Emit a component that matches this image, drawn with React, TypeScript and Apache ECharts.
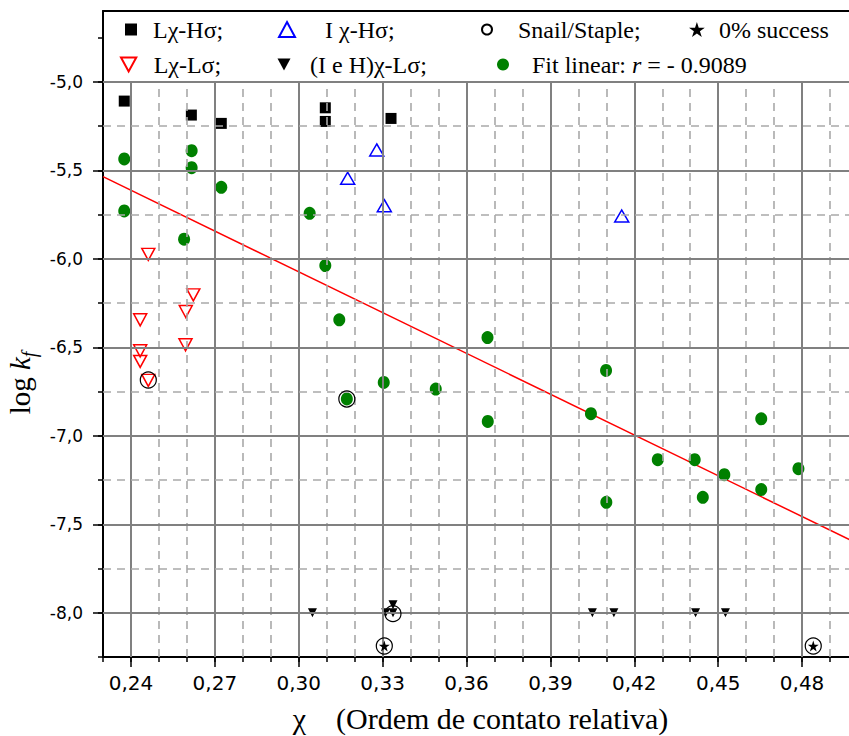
import React, { useEffect, useRef } from 'react';
import * as echarts from 'echarts';

// ---------- axis ranges & ticks ----------
const X_MIN = 0.23;
const X_MAX = 0.5;
const Y_MIN = -8.25;
const Y_MAX = -4.6;
const GRID_TOP_VALUE = -5.0;

const xMajorTicks = [0.24, 0.27, 0.3, 0.33, 0.36, 0.39, 0.42, 0.45, 0.48];
const xMinorTicks = [
  0.23, 0.24, 0.25, 0.26, 0.27, 0.28, 0.29, 0.3, 0.31, 0.32, 0.33, 0.34, 0.35, 0.36,
  0.37, 0.38, 0.39, 0.4, 0.41, 0.42, 0.43, 0.44, 0.45, 0.46, 0.47, 0.48, 0.49, 0.5,
];
const yMajorTicks = [-8.0, -7.5, -7.0, -6.5, -6.0, -5.5, -5.0];
const yMinorTicks = [
  -8.25, -8.0, -7.75, -7.5, -7.25, -7.0, -6.75, -6.5, -6.25, -6.0, -5.75, -5.5, -5.25, -5.0, -4.75,
];

// ---------- data ----------
// Lχ-Hσ (black squares)
const sqX = [0.2376, 0.2616, 0.2723, 0.3095, 0.3095, 0.333];
const sqY = [-5.109, -5.188, -5.235, -5.147, -5.224, -5.207];

// I χ-Hσ (blue open triangles)
const triUpX = [0.3279, 0.3175, 0.3306, 0.4155];
const triUpY = [-5.385, -5.545, -5.7, -5.758];

// Lχ-Lσ (red open down-triangles)
const triDnX = [0.2462, 0.2623, 0.2596, 0.2433, 0.2595, 0.2433, 0.2433, 0.2462];
const triDnY = [-5.975, -6.204, -6.298, -6.345, -6.486, -6.52, -6.58, -6.687];

// Snail/Staple (open circles)
const circX = [0.2462, 0.3172, 0.3337, 0.3306, 0.484];
const circY = [-6.685, -6.792, -8.005, -8.188, -8.188];

// 0% success (stars)
const starX = [0.3306, 0.484];
const starY = [-8.188, -8.188];

// (I e H)χ-Lσ (black down-triangles)
const blkX = [0.3049, 0.3311, 0.3337, 0.3337, 0.405, 0.4127, 0.4419, 0.4526];
const blkY = [-8.0, -8.0, -8.0, -7.955, -8.0, -8.0, -8.0, -8.0];

// Fit linear data points (green)
const grnX = [
  0.2376, 0.2617, 0.2617, 0.2723, 0.2376, 0.259, 0.3039, 0.3095, 0.3145, 0.3304, 0.3172, 0.349,
  0.3675, 0.4099, 0.3676, 0.4045, 0.4654, 0.4284, 0.4416, 0.4522, 0.4787, 0.41, 0.4445, 0.4654,
];
const grnY = [
  -5.436, -5.389, -5.485, -5.596, -5.73, -5.889, -5.743, -6.038, -6.345, -6.699, -6.792, -6.736,
  -6.445, -6.631, -6.919, -6.875, -6.904, -7.135, -7.135, -7.22, -7.186, -7.376, -7.348, -7.304,
];

// Fit line end points
const fitX = [0.23, 0.5];
const fitY = [-5.536, -7.61];

// ---------- names ----------
const N_SQ = 'Lχ-Hσ;';
const N_UP = 'I χ-Hσ;';
const N_CIRC = 'Snail/Staple;';
const N_STAR = '0% success';
const N_DN = 'Lχ-Lσ;';
const N_BLK = '(I e H)χ-Lσ;';
const N_GRN = 'Fit linear: r = - 0.9089';

const SERIF = "'Liberation Serif', 'Times New Roman', serif";
const SANS = "'DejaVu Sans', Verdana, sans-serif";
const STAR =
  'path://M50 0 L61.2 34.5 L97.6 34.5 L68.2 55.9 L79.4 90.5 L50 69.1 L20.6 90.5 L31.8 55.9 L2.4 34.5 L38.8 34.5 Z';
const TRI_DOWN = 'path://M0 0 L12 0 L6 11 Z';

const zip = (xs: number[], ys: number[]) => xs.map((x, i) => [x, ys[i]]);
const isMajor = (arr: number[], v: number) => arr.some((m) => Math.abs(m - v) < 1e-9);

function buildGridLines() {
  const lines: any[] = [];
  const solid = { color: '#808080', width: 2, type: 'solid' };
  const dashed = { color: '#a9a9a9', width: 1.6, type: [8, 6] };
  xMinorTicks
    .filter((x) => x > X_MIN + 1e-9 && x < X_MAX - 1e-9)
    .forEach((x) => {
      lines.push([
        { coord: [x, Y_MIN], lineStyle: isMajor(xMajorTicks, x) ? solid : dashed },
        { coord: [x, GRID_TOP_VALUE] },
      ]);
    });
  yMinorTicks
    .filter((y) => y > Y_MIN + 1e-9 && y <= GRID_TOP_VALUE + 1e-9)
    .forEach((y) => {
      lines.push([
        { coord: [X_MIN, y], lineStyle: isMajor(yMajorTicks, y) ? solid : dashed },
        { coord: [X_MAX, y] },
      ]);
    });
  return lines;
}

function legendAt(
  name: string,
  cx: number,
  cy: number,
  w: number,
  h: number,
  tx: number,
  extra: any = {}
) {
  return {
    data: [extra.icon ? { name, icon: extra.icon } : name],
    left: cx - w / 2,
    top: cy - 13.5,
    itemWidth: w,
    itemHeight: h,
    padding: 0,
    selectedMode: false,
    textStyle: {
      fontFamily: SERIF,
      fontSize: 24,
      color: '#000',
      padding: [0, 0, 0, tx - (cx + w / 2 + 5)],
      ...(extra.textStyle || {}),
    },
    ...(extra.formatter ? { formatter: extra.formatter } : {}),
  };
}

export default function App() {
  const ref = useRef<HTMLDivElement>(null);

  useEffect(() => {
    if (!ref.current) return;
    const chart = echarts.init(ref.current, null, { renderer: 'svg' });

    const hollow = 'rgba(255,255,255,0)';

    const option: any = {
      animation: false,
      backgroundColor: '#fff',
      grid: {
        left: 103,
        top: 11,
        width: 755,
        height: 646,
        containLabel: false,
        outerBoundsMode: 'none',
      },
      legend: [
        legendAt(N_SQ, 131, 31, 12, 12, 153),
        legendAt(N_UP, 286, 31, 16, 15, 324),
        legendAt(N_CIRC, 486, 31, 10, 10, 517),
        legendAt(N_STAR, 697, 31, 16, 15, 719),
        legendAt(N_DN, 128, 66, 16, 14, 153, { icon: TRI_DOWN }),
        legendAt(N_BLK, 284, 66, 13, 12, 310, { icon: TRI_DOWN }),
        legendAt(N_GRN, 503, 66, 12, 14, 532, {
          formatter: () => 'Fit linear: {i|r} = - 0.9089',
          textStyle: {
            rich: { i: { fontFamily: SERIF, fontSize: 24, fontStyle: 'italic', color: '#000' } },
          },
        }),
      ],
      xAxis: [
        {
          type: 'value',
          min: X_MIN,
          max: X_MAX,
          position: 'bottom',
          splitLine: { show: false },
          axisLine: { show: true, onZero: false, lineStyle: { color: '#000', width: 2 } },
          axisTick: { show: true, customValues: xMinorTicks, length: 5, lineStyle: { color: '#000', width: 1.5 } },
          axisLabel: {
            customValues: xMajorTicks,
            formatter: (v: number) => v.toFixed(2).replace('.', ','),
            fontFamily: SANS,
            fontSize: 20,
            color: '#000',
            margin: 16,
          },
          name: 'χ\u00a0\u00a0\u00a0\u00a0(Ordem de contato relativa)',
          nameLocation: 'middle',
          nameGap: 46,
          nameTextStyle: { fontFamily: SERIF, fontSize: 30, color: '#000' },
        },
        {
          type: 'value',
          min: X_MIN,
          max: X_MAX,
          position: 'bottom',
          splitLine: { show: false },
          axisLine: { show: false, onZero: false },
          axisTick: { show: true, customValues: xMajorTicks, length: 10, lineStyle: { color: '#000', width: 1.5 } },
          axisLabel: { show: false },
        },
        {
          type: 'value',
          min: X_MIN,
          max: X_MAX,
          position: 'top',
          splitLine: { show: false },
          axisLine: { show: true, onZero: false, lineStyle: { color: '#000', width: 2 } },
          axisTick: { show: false },
          axisLabel: { show: false },
        },
      ],
      yAxis: [
        {
          type: 'value',
          min: Y_MIN,
          max: Y_MAX,
          position: 'left',
          splitLine: { show: false },
          axisLine: { show: true, onZero: false, lineStyle: { color: '#000', width: 2 } },
          axisTick: { show: true, customValues: yMinorTicks, length: 5, lineStyle: { color: '#000', width: 1.5 } },
          axisLabel: {
            customValues: yMajorTicks,
            formatter: (v: number) => v.toFixed(1).replace('.', ','),
            fontFamily: SANS,
            fontSize: 17,
            color: '#000',
            align: 'right',
            margin: 20,
          },
          name: '{n|log }{k|k}{f|f}',
          nameLocation: 'middle',
          nameGap: 58,
          nameRotate: 90,
          nameTextStyle: {
            padding: [0, 98, 0, 0],
            rich: {
              n: { fontFamily: SERIF, fontSize: 29, color: '#000', lineHeight: 38, verticalAlign: 'middle' },
              k: { fontFamily: SERIF, fontSize: 29, fontStyle: 'italic', color: '#000', lineHeight: 38, verticalAlign: 'middle' },
              f: { fontFamily: SERIF, fontSize: 20, fontStyle: 'italic', color: '#000', lineHeight: 38, verticalAlign: 'bottom' },
            },
          },
        },
        {
          type: 'value',
          min: Y_MIN,
          max: Y_MAX,
          position: 'left',
          splitLine: { show: false },
          axisLine: { show: false, onZero: false },
          axisTick: { show: true, customValues: yMajorTicks, length: 10, lineStyle: { color: '#000', width: 1.5 } },
          axisLabel: { show: false },
        },
      ],
      series: [
        {
          type: 'line',
          name: '__grid',
          data: [],
          z: 1,
          silent: true,
          markLine: {
            silent: true,
            animation: false,
            symbol: ['none', 'none'],
            label: { show: false },
            emphasis: { disabled: true },
            data: buildGridLines(),
          },
        },
        {
          type: 'line',
          name: '__fit',
          data: zip(fitX, fitY),
          symbol: 'none',
          showSymbol: false,
          silent: true,
          lineStyle: { color: '#ff0000', width: 1.5 },
          z: 3,
        },
        {
          type: 'scatter',
          name: N_GRN,
          data: zip(grnX, grnY),
          symbol: 'circle',
          symbolSize: [12, 13],
          itemStyle: { color: '#008000', opacity: 1 },
          z: 4,
        },
        {
          type: 'scatter',
          name: N_SQ,
          data: zip(sqX, sqY),
          symbol: 'rect',
          symbolSize: 11,
          itemStyle: { color: '#000', opacity: 1 },
          z: 4,
        },
        {
          type: 'scatter',
          name: N_UP,
          data: zip(triUpX, triUpY),
          symbol: 'triangle',
          symbolSize: [14, 12],
          itemStyle: { color: hollow, borderColor: '#0000ff', borderWidth: 1.5, opacity: 1 },
          z: 4,
        },
        {
          type: 'scatter',
          name: N_DN,
          data: zip(triDnX, triDnY),
          symbol: 'triangle',
          symbolRotate: 180,
          symbolSize: [13, 12],
          itemStyle: { color: hollow, borderColor: '#ff0000', borderWidth: 1.5, opacity: 1 },
          z: 4,
        },
        {
          type: 'scatter',
          name: N_BLK,
          data: zip(blkX, blkY),
          symbol: 'triangle',
          symbolRotate: 180,
          symbolSize: [9, 9],
          itemStyle: { color: '#000', opacity: 1 },
          z: 4,
        },
        {
          type: 'scatter',
          name: N_STAR,
          data: zip(starX, starY),
          symbol: STAR,
          symbolSize: 11,
          itemStyle: { color: '#000', opacity: 1 },
          z: 5,
        },
        {
          type: 'scatter',
          name: N_CIRC,
          data: zip(circX, circY),
          symbol: 'circle',
          symbolSize: 16,
          itemStyle: { color: hollow, borderColor: '#000', borderWidth: 1.2, opacity: 1 },
          z: 5,
        },
      ],
    };

    chart.setOption(option);
    return () => chart.dispose();
  }, []);

  return (
    <div
      style={{
        position: 'absolute',
        left: 0,
        top: 0,
        width: 849,
        height: 736,
        overflow: 'hidden',
        background: '#fff',
      }}
    >
      <div ref={ref} style={{ width: 849, height: 736 }} />
    </div>
  );
}
